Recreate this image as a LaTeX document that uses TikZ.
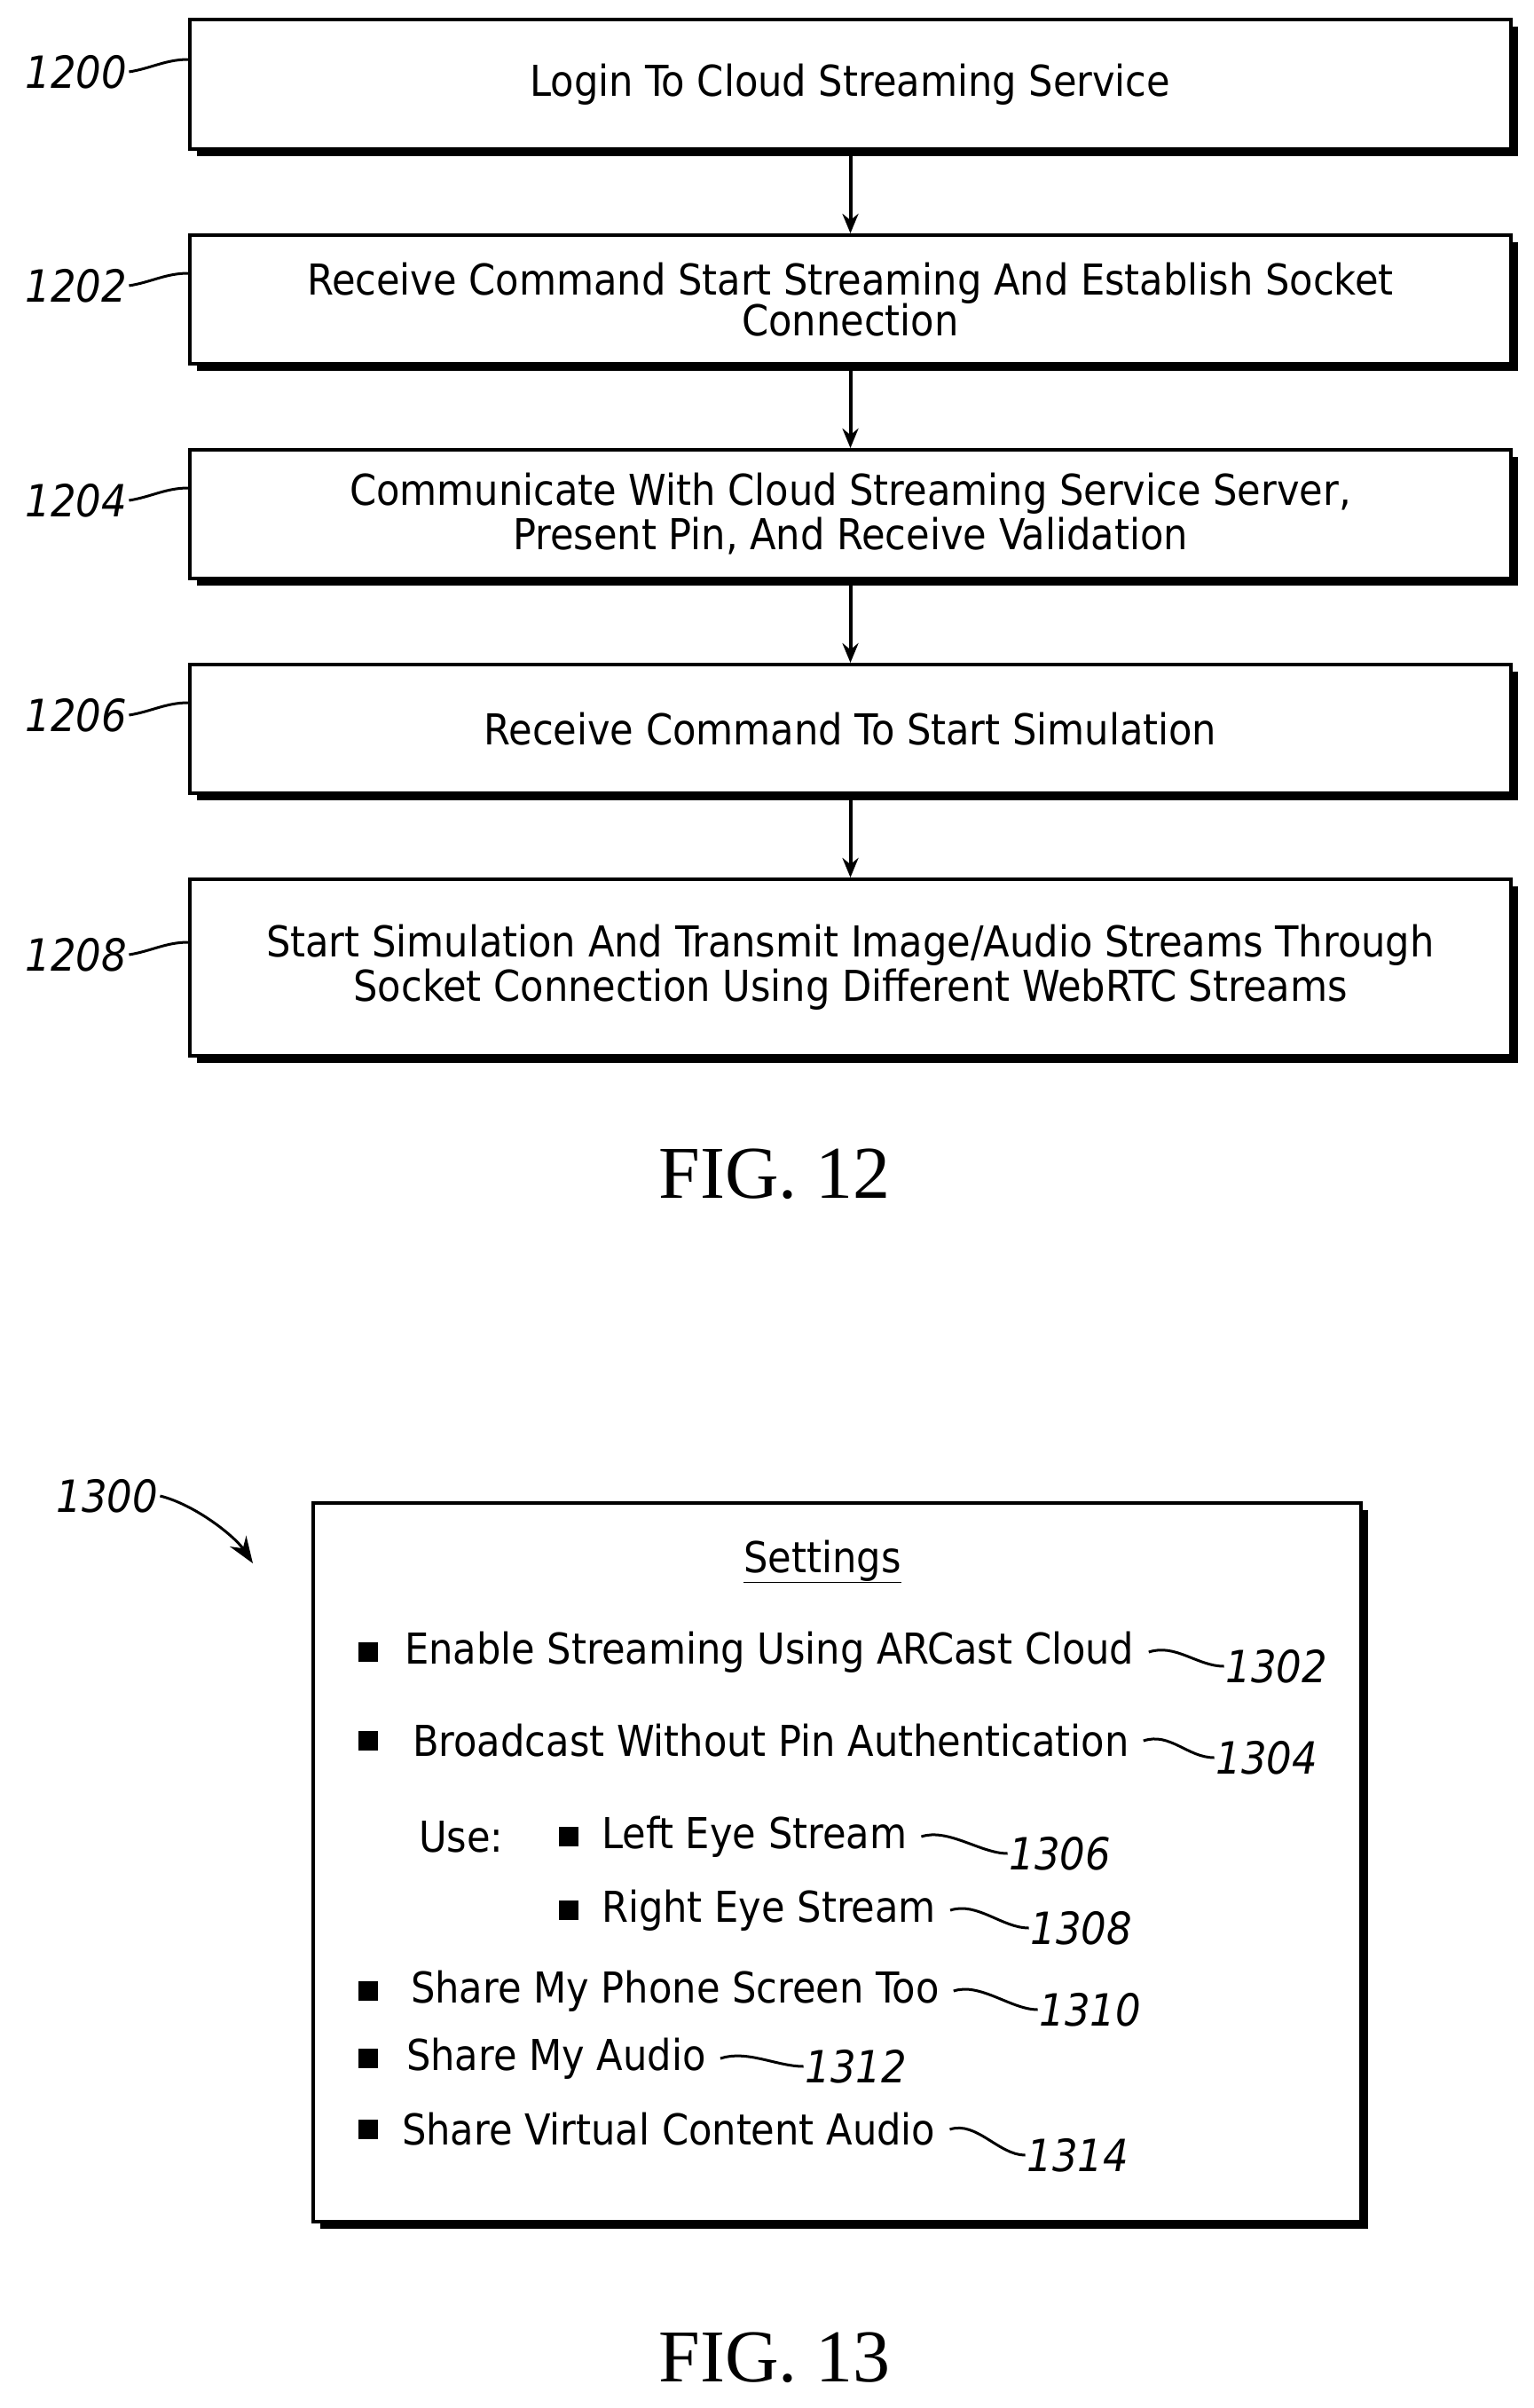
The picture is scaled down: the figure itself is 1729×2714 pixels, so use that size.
\documentclass[tikz,border=0pt]{standalone}
\usepackage{fontspec}
\setmainfont{DejaVu Sans Condensed}
\newfontfamily\figfont{Liberation Serif}
\usetikzlibrary{arrows.meta,positioning}
\tikzstyle{stepbox}=[draw=black,line width=4pt,fill=white,minimum width=1489pt,align=center,font=\fontsize{48}{54}\selectfont,inner sep=0pt]
\tikzstyle{dropfill}=[fill=black]
\tikzstyle{ref}=[font=\fontsize{50}{54}\selectfont\itshape,inner sep=2pt]
\tikzstyle{item}=[anchor=west,font=\fontsize{48}{54}\selectfont,inner sep=0pt]
\tikzstyle{flow}=[line width=4pt,-{Stealth[length=22pt,width=18pt]}]
\tikzstyle{wig}=[line width=3pt]
\tikzstyle{fig}=[font=\figfont\fontsize{84}{90}\selectfont]

\begin{document}
\begin{tikzpicture}[x=1pt,y=-1pt]
	\useasboundingbox (0,0) rectangle (1729,2714);
	% FIG. 12 flow
	\foreach \t/\b in {22/168,265/410,507/652,749/894,991/1190}
		\fill[dropfill] (222,\t+8) rectangle (1711,\b+8);
	\node[stepbox,minimum height=146pt] (s0) at (958.5,95) {Login To Cloud Streaming Service};
	\node[stepbox,minimum height=145pt] (s2) at (958.5,337.5) {Receive Command Start Streaming And Establish Socket\\[-8pt]Connection};
	\node[stepbox,minimum height=145pt] (s4) at (958.5,579.5) {Communicate With Cloud Streaming Service Server,\\[-4pt]Present Pin, And Receive Validation};
	\node[stepbox,minimum height=145pt] (s6) at (958.5,821.5) {Receive Command To Start Simulation};
	\node[stepbox,minimum height=199pt] (s8) at (958.5,1090.5) {Start Simulation And Transmit Image/Audio Streams Through\\[-4pt]Socket Connection Using Different WebRTC Streams};
	\draw[flow] (s0) -- (s2);
	\draw[flow] (s2) -- (s4);
	\draw[flow] (s4) -- (s6);
	\draw[flow] (s6) -- (s8);
	\foreach \n/\s/\y in {1200/s0/81,1202/s2/322,1204/s4/564,1206/s6/806,1208/s8/1076}{
		\node[ref] (r\n) at (86,\y) {\n};
		\draw[wig] (r\n.east) .. controls +(25,-4) and +(-25,0) .. ([yshift=14pt]\s.west |- 0,\y);
	}
	\node[fig] (f12) at (873,1323) {FIG. 12};
	% FIG. 13 settings
	\fill[dropfill] (361,1702) rectangle (1542,2512);
	\draw[line width=4pt,fill=white] (353,1694) rectangle (1534,2504);
	\node[item,anchor=center] (hd) at (927,1760) {\underline{Settings}};
	\node[ref] (r1300) at (121,1686) {1300};
	\draw[line width=3pt,-{Stealth[length=30pt,width=22pt]}] (r1300.east) .. controls +(40,10) and +(-20,-30) .. (285,1762);
	\foreach \n/\x/\y/\tx/\txt/\lx/\ly in {
		1302/415/1862/456/Enable Streaming Using ARCast Cloud/1439/1878,
		1304/415/1962/465/Broadcast Without Pin Authentication/1428/1981,
		1306/641/2070/678/Left Eye Stream/1195/2089,
		1308/641/2153/678/Right Eye Stream/1219/2173,
		1310/415/2244/463/Share My Phone Screen Too/1229/2265,
		1312/415/2320/458/Share My Audio/965/2329,
		1314/415/2400/453/Share Virtual Content Audio/1215/2429}{
		\fill (\x-11,\y-11) rectangle (\x+11,\y+11);
		\node[item] (t\n) at (\tx,\y) {\txt};
		\node[ref] (r\n) at (\lx,\ly) {\n};
		\draw[wig] ([xshift=16pt]t\n.east) .. controls +(30,-10) and +(-30,0) .. (r\n.west);
	}
	\node[item] (use) at (472,2070) {Use:};
	\node[fig] (f13) at (873,2657) {FIG. 13};
\end{tikzpicture}
\end{document}
